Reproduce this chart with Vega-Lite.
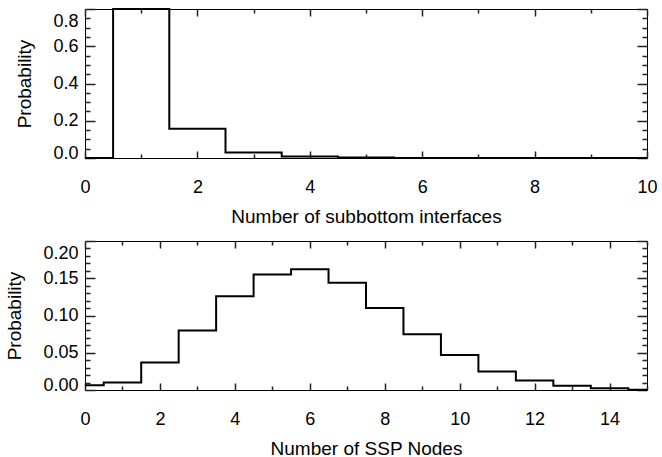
{
  "$schema": "https://vega.github.io/schema/vega-lite/v6.json",
  "padding": {"left": 5, "top": 4, "right": 5, "bottom": 5},
  "background": "white",
  "spacing": 11,
  "config": {
    "font": "Liberation Sans",
    "view": {"stroke": "#000", "strokeWidth": 1},
    "axis": {
      "grid": true, "domain": false, "ticks": false, "gridColor": "#222", "gridWidth": 1.5, "gridOpacity": 1,
      "labelFontSize": 18, "labelColor": "#000", "labelFont": "Liberation Sans",
      "titleFontSize": 19, "titleFontWeight": "normal", "titleColor": "#000", "titleFont": "Liberation Sans",
      "labelOverlap": false
    }
  },
  "datasets": {
    "iface": [
      {"n": 0, "p": 0}, {"n": 1, "p": 0.8}, {"n": 2, "p": 0.157}, {"n": 3, "p": 0.03},
      {"n": 4, "p": 0.0075}, {"n": 5, "p": 0.003}, {"n": 6, "p": 0.0005}, {"n": 7, "p": 0},
      {"n": 8, "p": 0}, {"n": 9, "p": 0}, {"n": 10, "p": 0}
    ],
    "ssp": [
      {"n": 0, "p": 0.0064}, {"n": 1, "p": 0.010}, {"n": 2, "p": 0.037}, {"n": 3, "p": 0.080},
      {"n": 4, "p": 0.126}, {"n": 5, "p": 0.155}, {"n": 6, "p": 0.162}, {"n": 7, "p": 0.144},
      {"n": 8, "p": 0.110}, {"n": 9, "p": 0.075}, {"n": 10, "p": 0.047}, {"n": 11, "p": 0.025},
      {"n": 12, "p": 0.0127}, {"n": 13, "p": 0.0056}, {"n": 14, "p": 0.0024}, {"n": 15, "p": 0.0005}
    ]
  },
  "vconcat": [
    {
      "width": 562, "height": 149,
      "data": {"name": "iface"},
      "mark": {"type": "line", "interpolate": "step", "color": "#000", "strokeWidth": 2},
      "encoding": {
        "x": {"field": "n", "type": "quantitative", "scale": {"domain": [0, 10], "nice": false},
          "axis": {"orient": "bottom", "values": [0, 1, 2, 3, 4, 5, 6, 7, 8, 9, 10], "format": "d",
            "labelExpr": "datum.value % 2 === 0 ? datum.label : ''",
            "labelPadding": 20, "labelFlush": false,
            "gridDash": {"condition": {"test": "datum.value % 2 === 0", "value": [7, 135]}, "value": [4, 141]},
            "title": "Number of subbottom interfaces", "titlePadding": 11}},
        "y": {"field": "p", "type": "quantitative", "scale": {"domain": [0, 0.8], "nice": false},
          "axis": {"orient": "left", "values": [0, 0.05, 0.1, 0.15, 0.2, 0.25, 0.3, 0.35, 0.4, 0.45, 0.5, 0.55, 0.6, 0.65, 0.7, 0.75, 0.8], "format": ".1f",
            "labelExpr": "abs(datum.value * 5 - round(datum.value * 5)) < 0.001 ? datum.label : ''",
            "labelPadding": 7, "labelFlush": false,
            "labelLineHeight": 24,
            "labelBaseline": {"condition": [{"test": "datum.value >= 0.79", "value": "line-top"}, {"test": "datum.value <= 0.001", "value": "alphabetic"}], "value": "middle"},
            "gridDash": {"condition": {"test": "abs(datum.value * 5 - round(datum.value * 5)) < 0.001", "value": [10, 542]}, "value": [5, 552]},
            "title": "Probability", "titlePadding": 18}}
      }
    },
    {
      "width": 562, "height": 149,
      "data": {"name": "ssp"},
      "mark": {"type": "line", "interpolate": "step", "color": "#000", "strokeWidth": 2},
      "encoding": {
        "x": {"field": "n", "type": "quantitative", "scale": {"domain": [0, 15], "nice": false},
          "axis": {"orient": "bottom", "values": [0, 1, 2, 3, 4, 5, 6, 7, 8, 9, 10, 11, 12, 13, 14, 15], "format": "d",
            "labelExpr": "datum.value % 2 === 0 ? datum.label : ''",
            "labelPadding": 20, "labelFlush": false,
            "gridDash": {"condition": {"test": "datum.value % 2 === 0", "value": [7, 135]}, "value": [4, 141]},
            "title": "Number of SSP Nodes", "titlePadding": 11}},
        "y": {"field": "p", "type": "quantitative", "scale": {"domain": [0, 0.2], "nice": false},
          "axis": {"orient": "left", "values": [0, 0.01, 0.02, 0.03, 0.04, 0.05, 0.06, 0.07, 0.08, 0.09, 0.1, 0.11, 0.12, 0.13, 0.14, 0.15, 0.16, 0.17, 0.18, 0.19, 0.2], "format": ".2f",
            "labelExpr": "abs(datum.value * 20 - round(datum.value * 20)) < 0.001 ? datum.label : ''",
            "labelPadding": 7, "labelFlush": false,
            "labelLineHeight": 24,
            "labelBaseline": {"condition": [{"test": "datum.value >= 0.199", "value": "line-top"}, {"test": "datum.value <= 0.001", "value": "alphabetic"}], "value": "middle"},
            "gridDash": {"condition": {"test": "abs(datum.value * 20 - round(datum.value * 20)) < 0.001", "value": [10, 542]}, "value": [5, 552]},
            "title": "Probability", "titlePadding": 18}}
      }
    }
  ]
}
